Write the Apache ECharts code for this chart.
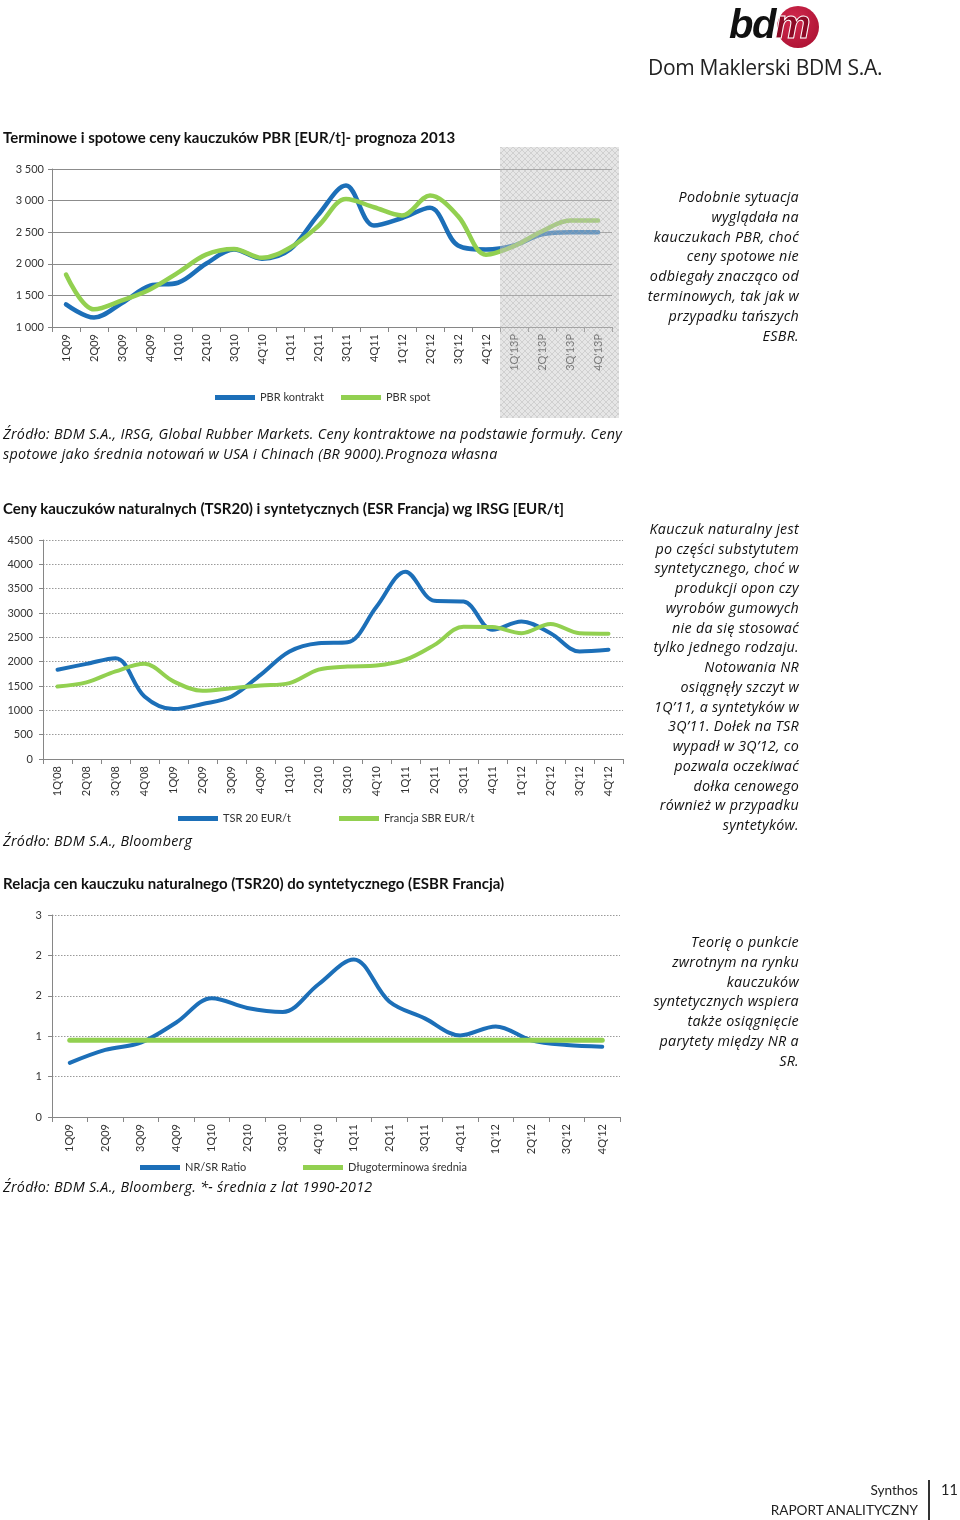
<!DOCTYPE html>
<html>
<head>
<meta charset="utf-8">
<script src="https://cdn.jsdelivr.net/npm/echarts@6/dist/echarts.min.js"></script>
<style>
  html, body { margin:0; padding:0; background:#fff; }
  #page { position:relative; width:960px; height:1520px; overflow:hidden; font-family:Lato, "Open Sans", sans-serif; color:#111; }
  #chart { position:absolute; left:0; top:0; width:960px; height:1520px; }
  .t { position:absolute; white-space:nowrap; }
  .title { font-weight:bold; font-size:15px; left:3px; }
  .note { font-family:"Open Sans", sans-serif; font-style:italic; font-size:14.3px; letter-spacing:0.3px; line-height:19.8px; text-align:right; width:300px; left:499px; }
  .src { font-family:"Open Sans", sans-serif; font-style:italic; font-size:14.3px; letter-spacing:0.3px; line-height:19.5px; left:3px; }
</style>
</head>
<body>
<div id="page">
  <div id="chart"></div>

  <!-- logo -->
  <div class="t" style="left:777px;top:6px;width:42px;height:42px;border-radius:50%;background:radial-gradient(circle at 40% 35%, #d22a4e, #a50d2e);"></div>
  <div class="t" style="left:729px;top:2px;font-family:'Liberation Sans',Arial,sans-serif;font-weight:bold;font-style:italic;font-size:40px;letter-spacing:-1.5px;color:#111;">bd<span style="color:#8d0a26;-webkit-text-stroke:1px #fff;">m</span></div>
  <div class="t" style="left:648px;top:53px;font-family:'Open Sans',sans-serif;font-size:21px;color:#222;letter-spacing:-0.3px;">Dom Maklerski BDM S.A.</div>

  <div class="t title" style="top:128px;">Terminowe i spotowe ceny kauczuków PBR [EUR/t]- prognoza 2013</div>
  <div class="t note" style="top:187px;">Podobnie sytuacja<br>wyglądała na<br>kauczukach PBR, choć<br>ceny spotowe nie<br>odbiegały znacząco od<br>terminowych, tak jak w<br>przypadku tańszych<br>ESBR.</div>
  <div class="t src" style="top:424px;">Źródło: BDM S.A., IRSG, Global Rubber Markets. Ceny kontraktowe na podstawie formuły. Ceny<br>spotowe jako średnia notowań w USA i Chinach (BR 9000).Prognoza własna</div>

  <div class="t title" style="top:499px;">Ceny kauczuków naturalnych (TSR20) i syntetycznych (ESR Francja) wg IRSG [EUR/t]</div>
  <div class="t note" style="top:519px;line-height:19.73px;">Kauczuk naturalny jest<br>po części substytutem<br>syntetycznego, choć w<br>produkcji opon czy<br>wyrobów gumowych<br>nie da się stosować<br>tylko jednego rodzaju.<br>Notowania NR<br>osiągnęły szczyt w<br>1Q’11, a syntetyków w<br>3Q’11. Dołek na TSR<br>wypadł w 3Q’12, co<br>pozwala oczekiwać<br>dołka cenowego<br>również w przypadku<br>syntetyków.</div>
  <div class="t src" style="top:831px;">Źródło: BDM S.A., Bloomberg</div>

  <div class="t title" style="top:874px;">Relacja cen kauczuku naturalnego (TSR20) do syntetycznego (ESBR Francja)</div>
  <div class="t note" style="top:932px;line-height:19.83px;">Teorię o punkcie<br>zwrotnym na rynku<br>kauczuków<br>syntetycznych wspiera<br>także osiągnięcie<br>parytety między NR a<br>SR.</div>
  <div class="t src" style="top:1177px;">Źródło: BDM S.A., Bloomberg. *- średnia z lat 1990-2012</div>

  <!-- footer -->
  <div class="t" style="left:700px;width:218px;text-align:right;top:1480px;font-size:13.6px;line-height:20px;color:#222;">Synthos<br>RAPORT ANALITYCZNY</div>
  <div class="t" style="left:928px;top:1480px;width:2px;height:40px;background:#333;"></div>
  <div class="t" style="left:941px;top:1480px;font-size:14.5px;line-height:20px;color:#222;">11</div>
</div>
<script>
// ---- Chart 1 data ----
const cats1 = ['1Q09','2Q09','3Q09','4Q09','1Q10','2Q10','3Q10',"4Q'10",'1Q11','2Q11','3Q11','4Q11',"1Q'12","2Q'12","3Q'12","4Q'12","1Q'13P","2Q'13P","3Q'13P","4Q'13P"];
const pbrKontrakt = [1358,1150,1380,1655,1700,2000,2225,2080,2225,2770,3240,2605,2725,2885,2290,2225,2290,2465,2500,2500];
const pbrSpot = [1830,1280,1420,1595,1860,2145,2235,2095,2255,2595,3025,2895,2765,3080,2755,2145,2280,2515,2685,2685];
const forecastStart = "1Q'13P";

// ---- Chart 2 data ----
const cats2 = ["1Q'08","2Q'08","3Q'08","4Q'08",'1Q09','2Q09','3Q09','4Q09','1Q10','2Q10','3Q10',"4Q'10",'1Q11','2Q11','3Q11','4Q11',"1Q'12","2Q'12","3Q'12","4Q'12"];
const tsr20 = [1835,1955,2070,1285,1025,1130,1285,1730,2210,2380,2400,3130,3850,3250,3235,2655,2825,2585,2210,2245];
const sbrFrancja = [1490,1575,1800,1955,1595,1400,1455,1510,1560,1835,1900,1920,2040,2345,2720,2710,2585,2775,2585,2575];

// ---- Chart 3 data ----
const cats3 = ['1Q09','2Q09','3Q09','4Q09','1Q10','2Q10','3Q10',"4Q'10",'1Q11','2Q11','3Q11','4Q11',"1Q'12","2Q'12","3Q'12","4Q'12"];
const nrSrRatio = [0.67,0.83,0.92,1.17,1.47,1.35,1.30,1.64,1.95,1.43,1.22,1.01,1.12,0.95,0.89,0.87];
const longTermAvg = [0.95,0.95,0.95,0.95,0.95,0.95,0.95,0.95,0.95,0.95,0.95,0.95,0.95,0.95,0.95,0.95];

const BLUE = '#1c6fb8', GREEN = '#92d050', AXIS = '#868686', LBL = '#333';
const FONT = 'Lato';

function xAx(gi, data) {
  return {
    type:'category', gridIndex:gi, data:data, boundaryGap:true,
    axisLine:{lineStyle:{color:AXIS, width:1}},
    axisTick:{show:true, length:5, lineStyle:{color:AXIS}},
    axisLabel:{rotate:90, fontSize:11, color:LBL, fontFamily:FONT, margin:7, interval:0},
    splitLine:{show:false}
  };
}
function yAx(gi, min, max, interval, fmt, margin, dotted) {
  return {
    type:'value', gridIndex:gi, min:min, max:max, interval:interval,
    axisLine:{show:true, lineStyle:{color:AXIS, width:1}},
    axisTick:{show:true, length:4, lineStyle:{color:AXIS}},
    axisLabel:{fontSize:11, color:LBL, fontFamily:FONT, margin:margin, formatter:fmt},
    splitLine:{show:true, lineStyle:{color: dotted ? '#9a9a9a' : '#8c8c8c', width:1, type: dotted ? [1.5,1.5] : 'solid'}}
  };
}
function ln(name, data, color, gi, width) {
  return {
    name:name, type:'line', xAxisIndex:gi, yAxisIndex:gi, data:data,
    smooth:0.35, showSymbol:false, symbol:'none', animation:false,
    lineStyle:{color:color, width:width, cap:'round', join:'round'},
    itemStyle:{color:color}, z:3
  };
}
function lg(name, left, top) {
  return {
    data:[name], left:left, top:top, icon:'rect', itemWidth:40, itemHeight:5, itemGap:0,
    textStyle:{fontSize:11, color:LBL, fontFamily:FONT}, padding:0, selectedMode:false
  };
}

const chart = echarts.init(document.getElementById('chart'), null, {renderer:'canvas'});
const option = {
  animation:false,
  textStyle:{fontFamily:FONT},
  grid:[
    {left:52, top:169, width:560, height:158},
    {left:43, top:540, width:580, height:219},
    {left:52, top:915, width:568, height:202}
  ],
  xAxis:[xAx(0,cats1), xAx(1,cats2), xAx(2,cats3)],
  yAxis:[
    yAx(0,1000,3500,500,function(v){return String(v).replace(/\B(?=(\d{3})+(?!\d))/g,' ');},8,false),
    yAx(1,0,4500,500,function(v){return String(v);},10,true),
    yAx(2,0,2.5,0.5,function(v){return String(Math.round(v));},10,true)
  ],
  legend:[
    lg('PBR kontrakt',215,392), lg('PBR spot',341,392),
    lg('TSR 20 EUR/t',178,813), lg('Francja SBR EUR/t',339,813),
    lg('NR/SR Ratio',140,1162), lg('Długoterminowa średnia',303,1162)
  ],
  series:[
    ln('PBR kontrakt', pbrKontrakt, BLUE, 0, 4.5),
    ln('PBR spot', pbrSpot, GREEN, 0, 4.5),
    ln('TSR 20 EUR/t', tsr20, BLUE, 1, 4),
    ln('Francja SBR EUR/t', sbrFrancja, GREEN, 1, 4),
    ln('NR/SR Ratio', nrSrRatio, BLUE, 2, 4),
    ln('Długoterminowa średnia', longTermAvg, GREEN, 2, 5)
  ]
};
chart.setOption(option);

// forecast shading over chart 1 (hatched gray panel), positioned from the axis scale
(function(){
  const c0 = chart.convertToPixel({xAxisIndex:0}, forecastStart);
  const c1 = chart.convertToPixel({xAxisIndex:0}, cats1[cats1.length-1]);
  const band = chart.convertToPixel({xAxisIndex:0}, cats1[1]) - chart.convertToPixel({xAxisIndex:0}, cats1[0]);
  const x0 = c0 - band/2;
  const x1 = c1 + band/2 + 7;
  const yTop = chart.convertToPixel({yAxisIndex:0}, 3500) - 22;
  const yBot = chart.convertToPixel({yAxisIndex:0}, 1000) + 91;
  const pc = document.createElement('canvas');
  pc.width = 6; pc.height = 6;
  const g = pc.getContext('2d');
  g.fillStyle = 'rgba(200,200,200,0.45)'; g.fillRect(0,0,6,6);
  g.fillStyle = 'rgba(170,170,170,0.35)';
  for (let i=0;i<6;i++){ g.fillRect(i,i,1,1); g.fillRect(5-i,i,1,1); }
  chart.setOption({
    graphic:[{
      type:'rect', z:100, silent:true,
      shape:{x:x0, y:yTop, width:x1-x0, height:yBot-yTop},
      style:{fill:{image:pc, repeat:'repeat'}}
    }]
  });
})();
</script>
</body>
</html>
